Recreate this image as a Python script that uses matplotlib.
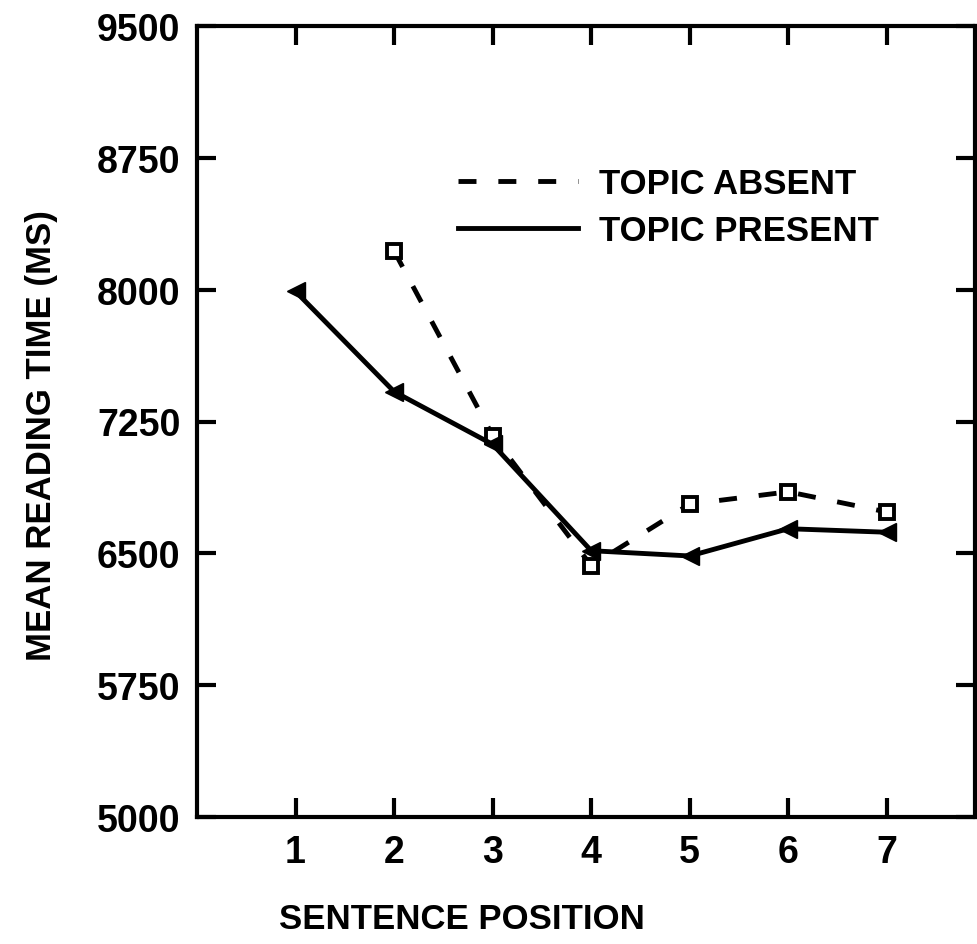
import matplotlib.pyplot as plt
from matplotlib.lines import Line2D

# Mean reading time by sentence position
positions = [1, 2, 3, 4, 5, 6, 7]
absent_positions = [2, 3, 4, 5, 6, 7]
topic_absent = [8220, 7170, 6430, 6780, 6850, 6735]
topic_present = [7990, 7420, 7120, 6515, 6485, 6640, 6620]
y_ticks = [5000, 5750, 6500, 7250, 8000, 8750, 9500]

plt.rcParams['font.family'] = ['Liberation Sans', 'DejaVu Sans']
plt.rcParams['font.weight'] = 'bold'
plt.rcParams['axes.labelweight'] = 'bold'

fig = plt.figure(figsize=(9.78, 9.45), dpi=100)
ax = fig.add_axes([197 / 978, 1 - 818 / 945, (975.5 - 197) / 978, (818 - 27) / 945])

dash = (3.7, 4.5)
ax.plot(absent_positions, topic_absent, color='black', lw=3.5, dashes=dash,
        marker='s', ms=10, mfc='white', mec='black', mew=2.8, zorder=3)
ax.plot(positions, topic_present, color='black', lw=3.5,
        marker='<', ms=13, mfc='black', mec='black', zorder=4)

ax.set_xlim(0, 7.9)
ax.set_ylim(5000, 9500)
ax.set_xticks(positions)
ax.set_yticks(y_ticks)
ax.tick_params(direction='in', length=14, width=3, top=True, right=True,
               labelsize=27, pad=12)
for s in ax.spines.values():
    s.set_linewidth(3)

ax.set_xlabel('SENTENCE POSITION', fontsize=25)
ax.set_ylabel('MEAN READING TIME (MS)', fontsize=25)
ax.xaxis.set_label_coords(0.34, -0.108)
ax.yaxis.set_label_coords(-0.178, 0.484)

handles = [Line2D([], [], color='black', lw=3.5, dashes=dash),
           Line2D([], [], color='black', lw=3.5)]
ax.legend(handles, ['TOPIC ABSENT', 'TOPIC PRESENT'], loc='upper left',
          bbox_to_anchor=(0.335, 0.822), frameon=False, fontsize=25,
          handlelength=3.45, handletextpad=0.62, labelspacing=0.4, borderpad=0,
          borderaxespad=0)

fig.savefig('out.png', dpi=100)
